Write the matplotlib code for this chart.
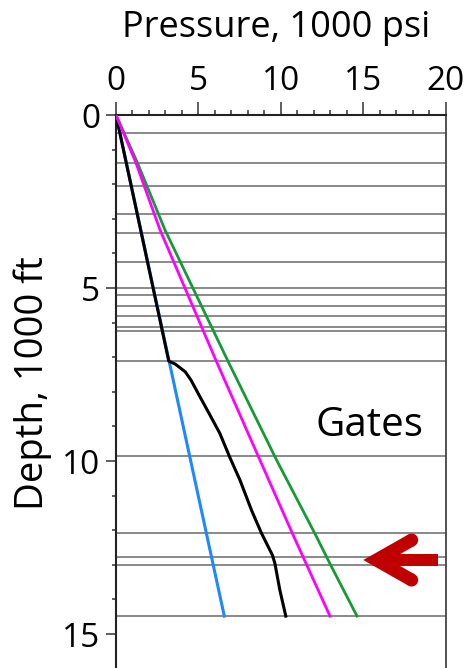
import matplotlib
matplotlib.use("Agg")
import numpy as np
import matplotlib.pyplot as plt
from matplotlib import transforms
from matplotlib.patches import Polygon, Circle, Rectangle
from matplotlib.ticker import MultipleLocator

plt.rcParams["font.family"] = ["Open Sans", "DejaVu Sans"]

# Formation tops (1000 ft)
formation_tops = [0.51, 1.40, 2.04, 2.86, 3.42, 4.25, 4.99, 5.21, 5.51, 5.81,
                  6.12, 6.23, 7.11, 9.85, 12.09, 12.78, 13.00, 14.48]

# Hydrostatic pressure
blue_depth = [0, 7.11, 14.48]
blue_p = [0, 3.22, 6.57]

# Pore pressure
black_depth = [0, 7.11, 7.20, 7.42, 7.66, 8.14, 8.67, 9.20, 9.90, 10.55,
               11.42, 12.09, 12.72, 12.96, 13.73, 14.48]
black_p = [0, 3.20, 3.60, 4.20, 4.55, 5.09, 5.70, 6.30, 6.91, 7.52,
           8.22, 8.83, 9.49, 9.64, 9.94, 10.30]

# Fracture pressure
magenta_depth = [0, 1.37, 3.32, 7.13, 9.97, 12.09, 14.48]
magenta_p = [0, 1.20, 2.67, 6.10, 8.73, 10.70, 12.98]

# Overburden pressure
green_depth = [0, 1.37, 3.32, 7.13, 9.97, 12.09, 13.05, 14.48]
green_p = [0, 1.29, 2.97, 6.81, 9.74, 12.06, 13.07, 14.62]

x_ticks = [0, 5, 10, 15, 20]
y_ticks = [0, 5, 10, 15]

# Arrow tip (pressure, depth) pointing at the Gates interval
arrow_tip = (15.0, 12.86)

W, H = 465, 668
fig = plt.figure(figsize=(W / 100, H / 100), dpi=100)
ax = fig.add_axes([116 / W, 0, (445.7 - 116) / W, (H - 115) / H])

ax.set_xlim(0, 20)
ax.set_ylim(15.98, 0)

for d in formation_tops:
    ax.axhline(d, color="#808080", lw=1.3, zorder=1)

ax.plot(blue_p, blue_depth, color="#1E88FF", lw=2.2, zorder=2)
ax.plot(black_p, black_depth, color="black", lw=2.2, zorder=3)
ax.plot(green_p, green_depth, color="#159A35", lw=2.0, zorder=4)
ax.plot(magenta_p, magenta_depth, color="#FF00FF", lw=2.0, zorder=5)

# Axes styling
ax.xaxis.tick_top()
ax.set_xticks(x_ticks)
ax.set_yticks(y_ticks)
ax.xaxis.set_minor_locator(MultipleLocator(1))
ax.yaxis.set_minor_locator(MultipleLocator(1))
ax.tick_params(axis="x", which="major", length=9.5, width=1.1, color="#333333",
               labelsize=24, pad=3, direction="out")
ax.tick_params(axis="x", which="minor", length=3.6, width=1.1, color="#333333",
               direction="out")
ax.tick_params(axis="y", which="major", length=7.2, width=1.1, color="#333333",
               labelsize=24, pad=4, direction="out")
ax.tick_params(axis="y", which="minor", length=3.0, width=1.1, color="#333333",
               direction="out")
for side in ("top", "left"):
    ax.spines[side].set_linewidth(1.5)
    ax.spines[side].set_color("#222222")
ax.spines["right"].set_linewidth(1.3)
ax.spines["right"].set_color("#444444")
ax.spines["bottom"].set_visible(False)

fig.text(276 / W, 1 - 36.7 / H, "Pressure, 1000 psi", fontsize=26,
         ha="center", va="baseline")
fig.text(43.3 / W, 1 - 383 / H, "Depth, 1000 ft", fontsize=27.5, rotation=90,
         rotation_mode="anchor", ha="center", va="baseline")

ax.text(15.4, 9.28, "Gates", fontsize=29, ha="center", va="baseline", zorder=6)

# Block arrow, shaped in pixel units and anchored at the tip in data space
arrow_color = "#C00000"
px = (transforms.Affine2D().scale(1 / fig.dpi) + fig.dpi_scale_trans
      + transforms.ScaledTranslation(arrow_tip[0], arrow_tip[1], ax.transData))

t = 13.0                      # arm thickness (px)
end_u = np.array([48.4, 20.0])
end_l = np.array([48.4, -20.0])
theta = np.arctan2(20.0, 35.0)
d = (t / 2) / np.sin(theta)
for _ in range(20):
    theta = np.arctan2(end_u[1], end_u[0] - d)
    d = (t / 2) / np.sin(theta)
vtx = np.array([d, 0.0])


def arm_polygon(end, sign):
    u = (end - vtx) / np.linalg.norm(end - vtx)
    n = np.array([-u[1], u[0]]) * sign
    return [(0, 0), tuple(end + n * t / 2), tuple(end - n * t / 2), (2 * d, 0)]


for end, sign in ((end_u, 1), (end_l, -1)):
    ax.add_patch(Polygon(arm_polygon(end, sign), closed=True, transform=px,
                         facecolor=arrow_color, edgecolor="none", zorder=6))
    ax.add_patch(Circle(tuple(end), t / 2, transform=px,
                        facecolor=arrow_color, edgecolor="none", zorder=6))
ax.add_patch(Rectangle((d, -5.65), 75.0 - d, 11.3, transform=px,
                       facecolor=arrow_color, edgecolor="none", zorder=6))

fig.savefig("out.png", dpi=100)
